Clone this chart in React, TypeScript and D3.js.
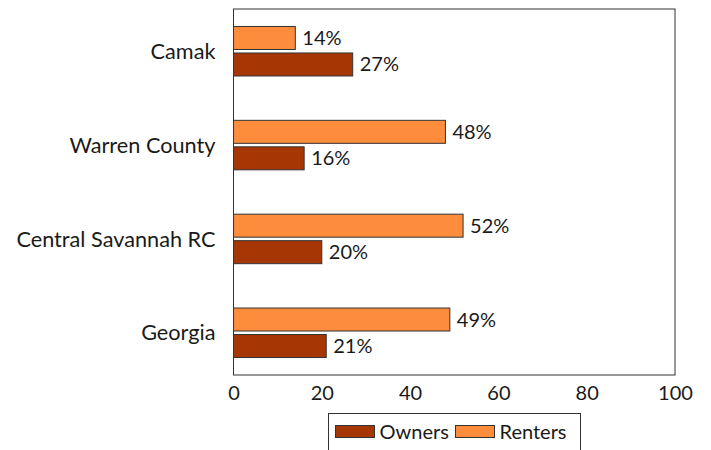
import React, { useRef, useEffect } from 'react'
import * as d3 from 'd3'

const categories = ['Camak', 'Warren County', 'Central Savannah RC', 'Georgia']
const owners = [27, 16, 20, 21]
const renters = [14, 48, 52, 49]
const xTicks = [0, 20, 40, 60, 80, 100]

const App = () => {
  const svgRef = useRef<SVGSVGElement>(null)

  useEffect(() => {
    const svg = d3.select(svgRef.current)
    svg.selectAll('*').remove()

    const width = 711
    const height = 450
    const margin = { top: 9, right: 36, bottom: 75, left: 233.5 }
    const font = 'Lato, sans-serif'
    const ownerColor = '#a63603'
    const renterColor = '#fd8d3c'
    const textColor = '#1a1a1a'

    const x = d3.scaleLinear()
      .domain([0, 100])
      .range([margin.left, width - margin.right])
    const y = d3.scalePoint<string>()
      .domain(categories)
      .range([margin.top, height - margin.bottom])
      .padding(0.45)

    const barH = 23
    const gap = 3.5

    // frame
    svg.append('rect')
      .attr('x', x(0))
      .attr('y', margin.top)
      .attr('width', x(100) - x(0))
      .attr('height', height - margin.bottom - margin.top)
      .attr('fill', 'none')
      .attr('stroke', '#333')
      .attr('stroke-width', 1)

    const g = svg.append('g')

    categories.forEach((c, i) => {
      const cy = y(c) as number
      // renters above
      g.append('rect')
        .attr('x', x(0))
        .attr('y', cy - gap / 2 - barH)
        .attr('width', x(renters[i]) - x(0))
        .attr('height', barH)
        .attr('fill', renterColor)
        .attr('stroke', '#333')
      g.append('text')
        .attr('x', x(renters[i]) + 7)
        .attr('y', cy - gap / 2 - barH / 2)
        .attr('dy', '0.35em')
        .attr('font-family', font)
        .attr('font-size', 20)
        .attr('fill', textColor)
        .text(renters[i] + '%')
      // owners below
      g.append('rect')
        .attr('x', x(0))
        .attr('y', cy + gap / 2)
        .attr('width', x(owners[i]) - x(0))
        .attr('height', barH)
        .attr('fill', ownerColor)
        .attr('stroke', '#333')
      g.append('text')
        .attr('x', x(owners[i]) + 7)
        .attr('y', cy + gap / 2 + barH / 2)
        .attr('dy', '0.35em')
        .attr('font-family', font)
        .attr('font-size', 20)
        .attr('fill', textColor)
        .text(owners[i] + '%')
      // category label
      svg.append('text')
        .attr('x', x(0) - 18)
        .attr('y', cy)
        .attr('dy', '0.35em')
        .attr('text-anchor', 'end')
        .attr('font-family', font)
        .attr('font-size', 21.7)
        .attr('fill', textColor)
        .text(c)
    })

    const xAxis = d3.axisBottom(x).tickValues(xTicks).tickSize(0).tickPadding(11)
    svg.append('g')
      .attr('transform', `translate(0,${height - margin.bottom})`)
      .call(xAxis)
      .call(g => g.select('.domain').remove())
      .selectAll('text')
      .attr('font-family', font)
      .attr('font-size', 20)
      .attr('fill', textColor)

    // legend
    const lg = svg.append('g')
    lg.append('rect')
      .attr('x', 328.5).attr('y', 413.5)
      .attr('width', 252).attr('height', 45)
      .attr('fill', 'white').attr('stroke', '#333')
    const items = [
      { name: 'Owners', color: ownerColor, x: 335.5 },
      { name: 'Renters', color: renterColor, x: 455.5 }
    ]
    items.forEach(it => {
      lg.append('rect')
        .attr('x', it.x).attr('y', 425.5)
        .attr('width', 39).attr('height', 12)
        .attr('fill', it.color).attr('stroke', '#333')
      lg.append('text')
        .attr('x', it.x + 44).attr('y', 431.5)
        .attr('dy', '0.35em')
        .attr('font-family', font)
        .attr('font-size', 20)
        .attr('fill', textColor)
        .text(it.name)
    })
  }, [])

  return (
    <svg ref={svgRef} width={711} height={450}
      style={{ position: 'absolute', left: 0, top: 0, background: 'white' }} />
  )
}

export default App
